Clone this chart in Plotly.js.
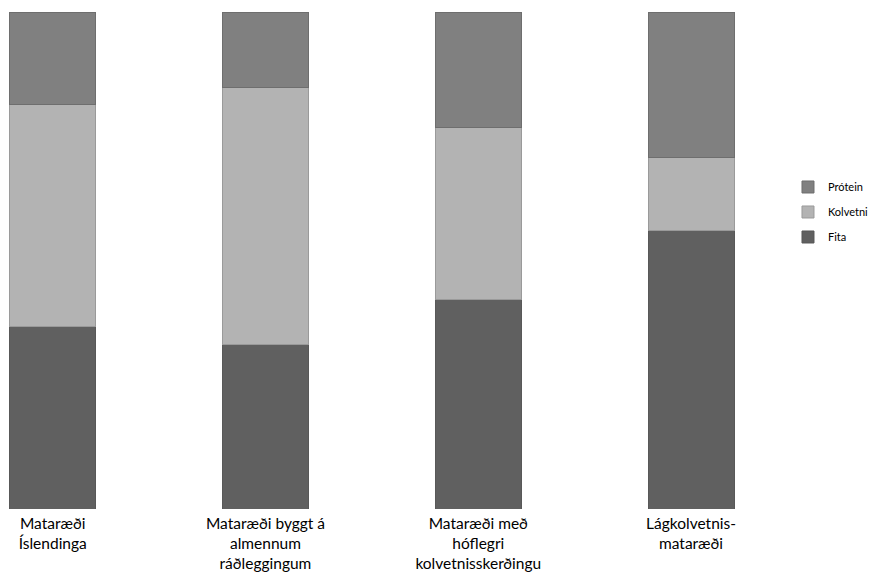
<!DOCTYPE html>
<html>
<head>
<meta charset="utf-8">
<script src="https://cdn.plot.ly/plotly-3.0.1.min.js"></script>
<style>html,body{margin:0;padding:0;background:#fff;}#chart{width:874px;height:572px;}</style>
</head>
<body>
<div id="chart"></div>
<script>
var categories = ["Mataræði<br>Íslendinga", "Mataræði byggt á<br>almennum<br>ráðleggingum", "Mataræði með<br>hóflegri<br>kolvetnisskerðingu", "Lágkolvetnis-<br>mataræði"];
var fita = [36.7, 33.0, 42.1, 56.0];
var kolvetni = [44.6, 51.9, 34.7, 14.7];
var protein = [18.7, 15.1, 23.2, 29.3];

var xIdx = [0, 1, 2, 3];
function tr(name, vals, color, lineColor, rank) {
  return {
    type: 'bar', name: name, legendgroup: name, legendrank: rank, x: xIdx, y: vals, width: 0.404,
    marker: {color: color, line: {color: lineColor, width: 1}},
    hoverinfo: 'name+y'
  };
}
var data = [
  tr('Fita', fita, '#606060', '#585858', 3),
  tr('Kolvetni', kolvetni, '#b3b3b3', '#9a9a9a', 2),
  tr('Prótein', protein, '#808080', '#6e6e6e', 1)
];
var layout = {
  width: 874, height: 572,
  margin: {l: 0, r: 0, t: 12, b: 63},
  barmode: 'stack',
  paper_bgcolor: '#fff', plot_bgcolor: '#fff',
  font: {family: 'Lato, "Open Sans", sans-serif', color: '#000'},
  xaxis: {
    domain: [0, 0.8924],
    range: [-0.2477, 3.418], tickvals: xIdx, ticktext: categories,
    showgrid: false, zeroline: false, showline: false, ticks: '',
    ticklabelstandoff: 3,
    tickfont: {size: 15.5, color: '#000'}
  },
  yaxis: {range: [0, 100], visible: false, showgrid: false, zeroline: false},
  showlegend: true,
  legend: {
    x: 0.9016, xanchor: 'left', y: 0.5976, yanchor: 'middle',
    traceorder: 'grouped', tracegroupgap: 6,
    font: {size: 11, color: '#000'},
    bgcolor: 'rgba(0,0,0,0)'
  }
};
Plotly.newPlot('chart', data, layout, {displayModeBar: false, staticPlot: true});
</script>
</body>
</html>
